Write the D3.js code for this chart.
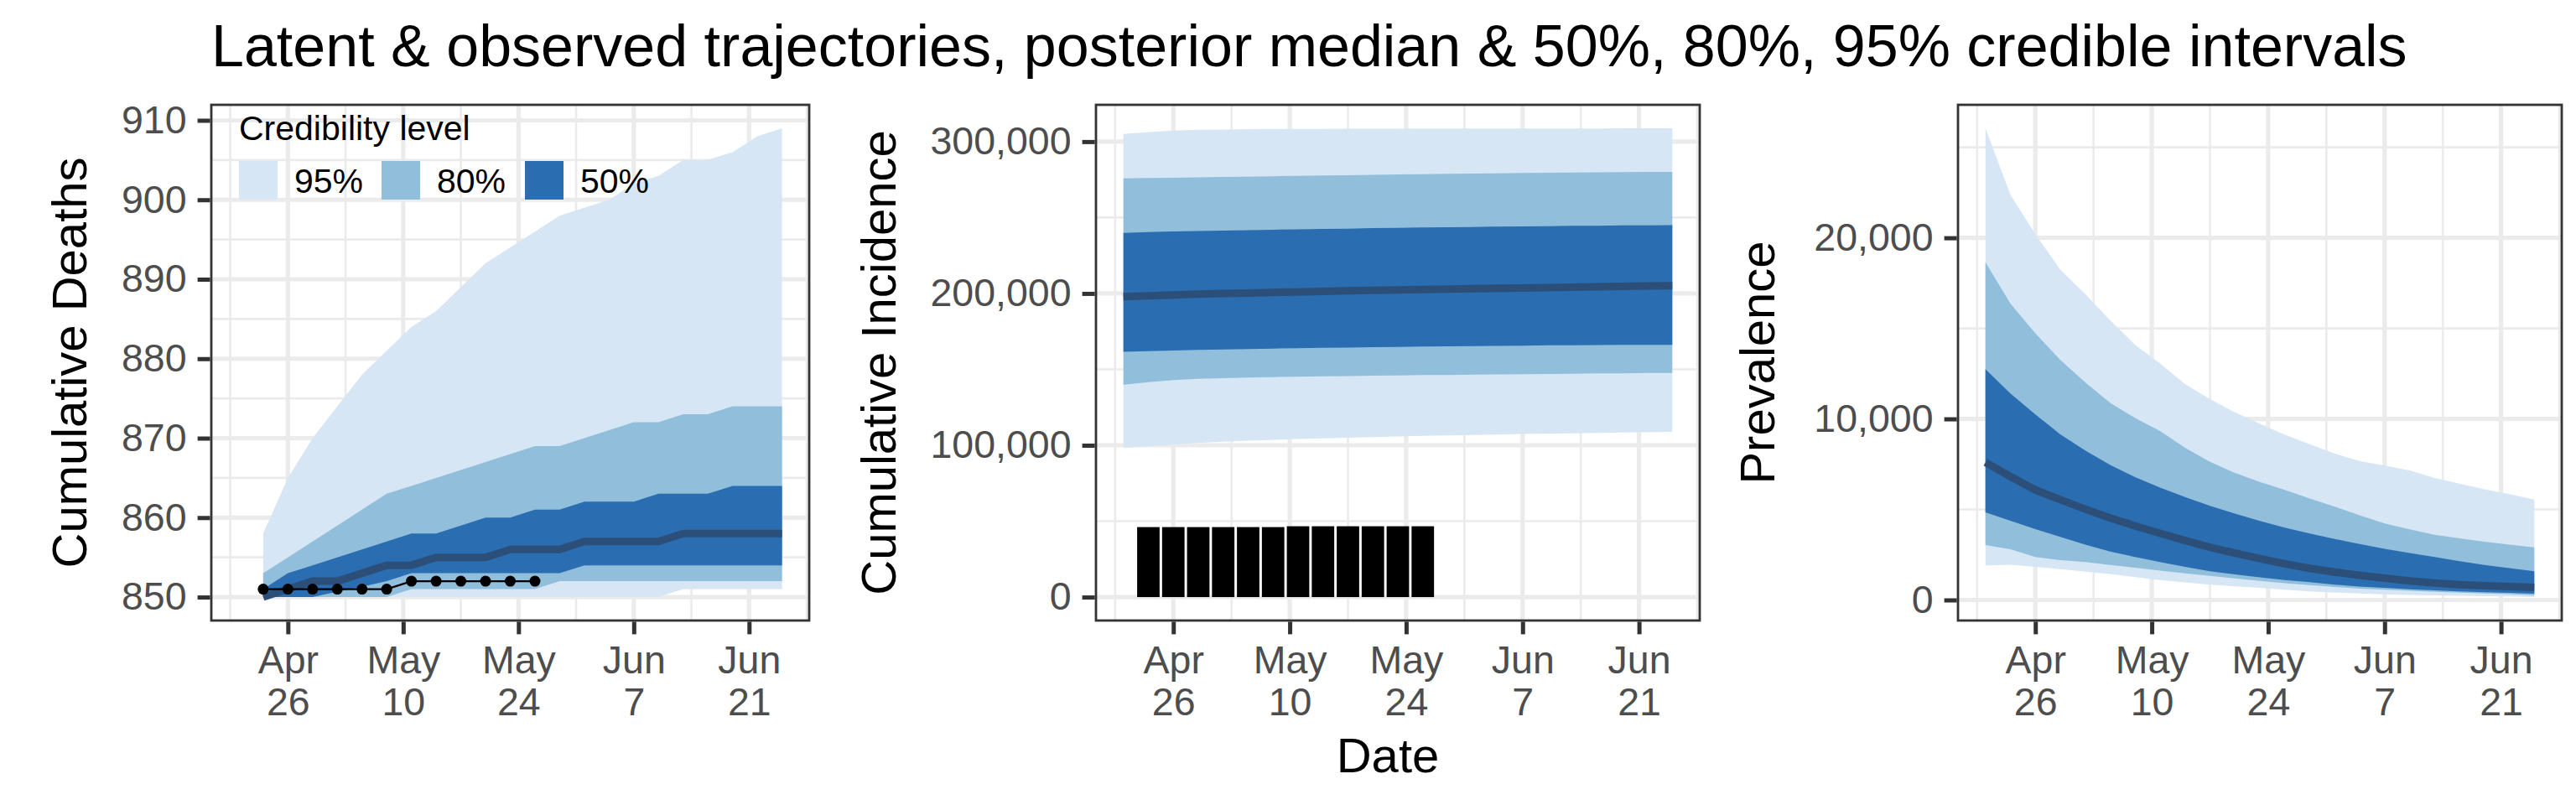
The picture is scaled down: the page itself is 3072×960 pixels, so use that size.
<!DOCTYPE html>
<html>
<head>
<meta charset="utf-8">
<script src="https://cdn.jsdelivr.net/npm/d3@7"></script>
<style>
  body { margin: 0; background: #fff; }
  svg { display: block; }
</style>
</head>
<body>
<div id="chart"></div>
<script>
// ---- data ----
const latentDates = [
  "2020-04-20", "2020-04-23", "2020-04-26", "2020-04-29", "2020-05-02", "2020-05-05",
  "2020-05-08", "2020-05-11", "2020-05-14", "2020-05-17", "2020-05-20", "2020-05-23",
  "2020-05-26", "2020-05-29", "2020-06-01", "2020-06-04", "2020-06-07", "2020-06-10",
  "2020-06-13", "2020-06-16", "2020-06-19", "2020-06-22", "2020-06-25"
];
const deathDates = latentDates.slice(1);
const obsDates = [
  "2020-04-23", "2020-04-26", "2020-04-29", "2020-05-02", "2020-05-05", "2020-05-08",
  "2020-05-11", "2020-05-14", "2020-05-17", "2020-05-20", "2020-05-23", "2020-05-26"
];

const xTickDates = ["2020-04-26", "2020-05-10", "2020-05-24", "2020-06-07", "2020-06-21"];
const levels = ["95%", "80%", "50%"];

// cumulative deaths
const deathObs = [851, 851, 851, 851, 851, 851, 852, 852, 852, 852, 852, 852];
const deathLo95 = [850, 850, 850, 850, 850, 850, 850, 850, 850, 850, 850, 850, 850, 850, 850, 850, 850, 851, 851, 851, 851, 851];
const deathLo80 = [850, 850, 850, 850, 850, 850, 851, 851, 851, 851, 851, 851, 852, 852, 852, 852, 852, 852, 852, 852, 852, 852];
const deathLo50 = [850, 850, 850, 850.7, 851.3, 852, 853, 853, 853, 853, 853, 853, 853, 854, 854, 854, 854, 854, 854, 854, 854, 854];
const deathMed = [850, 851, 852, 852, 853, 854, 854, 855, 855, 855, 856, 856, 856, 857, 857, 857, 857, 858, 858, 858, 858, 858];
const deathHi50 = [851, 853, 854, 855, 856, 857, 858, 858, 859, 860, 860, 861, 861, 862, 862, 862, 863, 863, 863, 864, 864, 864];
const deathHi80 = [853, 855, 857, 859, 861, 863, 864, 865, 866, 867, 868, 869, 869, 870, 871, 872, 872, 873, 873, 874, 874, 874];
const deathHi95 = [858, 865, 870, 874, 878, 881, 884, 886, 889, 892, 894, 896, 898, 899, 900, 902, 903, 905, 905, 906, 908, 909];
const deathTicks = [850, 860, 870, 880, 890, 900, 910];

// cumulative incidence
const incObs = [46100, 46100, 46100, 46100, 46100, 46100, 46650, 46650, 46650, 46650, 46650, 46650];
const incLo95 = [98200, 99500, 100600, 101500, 102300, 103000, 103600, 104100, 104600, 105000, 105400, 105800, 106200, 106500, 106800, 107100, 107400, 107700, 107900, 108200, 108400, 108600, 108800];
const incLo80 = [139900, 141600, 142900, 143700, 144200, 144600, 144900, 145200, 145400, 145600, 145800, 146000, 146200, 146300, 146500, 146700, 146800, 147000, 147100, 147300, 147400, 147600, 147700];
const incLo50 = [161600, 162000, 162400, 162800, 163100, 163400, 163700, 163900, 164200, 164400, 164600, 164800, 165000, 165200, 165300, 165500, 165600, 165800, 165900, 166000, 166100, 166200, 166200];
const incMed = [197900, 198500, 199000, 199500, 199900, 200300, 200700, 201000, 201400, 201700, 202000, 202300, 202600, 202900, 203100, 203400, 203600, 203900, 204100, 204400, 204600, 204900, 205100];
const incHi50 = [239900, 240400, 240800, 241100, 241400, 241700, 242000, 242200, 242500, 242700, 243000, 243200, 243400, 243600, 243800, 244000, 244200, 244300, 244500, 244600, 244800, 244900, 245000];
const incHi80 = [275800, 276000, 276200, 276400, 276700, 276900, 277200, 277400, 277700, 277900, 278100, 278400, 278600, 278800, 279000, 279100, 279300, 279500, 279600, 279800, 279900, 280000, 280100];
const incHi95 = [305100, 306300, 307200, 307800, 308000, 308200, 308300, 308400, 308400, 308500, 308500, 308500, 308600, 308600, 308600, 308600, 308700, 308700, 308700, 308700, 308800, 308800, 308800];
const incTicks = [0, 100000, 200000, 300000];

// prevalence
const prevLo95 = [1900, 1950, 1830, 1700, 1560, 1430, 1260, 1100, 970, 850, 750, 670, 570, 480, 410, 360, 310, 280, 250, 230, 210, 200, 160];
const prevLo80 = [3030, 2800, 2370, 2200, 2090, 1930, 1780, 1620, 1470, 1330, 1190, 1050, 930, 820, 720, 630, 570, 510, 450, 400, 360, 320, 260];
const prevLo50 = [4840, 4380, 3910, 3480, 3060, 2680, 2370, 2090, 1830, 1590, 1410, 1250, 1100, 980, 850, 740, 670, 590, 530, 480, 430, 390, 350];
const prevMed = [7600, 6820, 6080, 5540, 5020, 4530, 4090, 3680, 3280, 2910, 2590, 2290, 2000, 1750, 1540, 1360, 1200, 1050, 940, 850, 790, 740, 700];
const prevHi50 = [12750, 11400, 10250, 9150, 8250, 7450, 6780, 6200, 5690, 5200, 4770, 4370, 3990, 3670, 3370, 3090, 2830, 2590, 2370, 2140, 1930, 1760, 1590];
const prevHi80 = [18650, 16370, 14720, 13260, 12020, 10880, 10050, 9330, 8400, 7630, 7010, 6520, 6080, 5600, 5150, 4680, 4220, 3900, 3600, 3400, 3220, 3060, 2910];
const prevHi95 = [26050, 22380, 20200, 18240, 16890, 15440, 14090, 13060, 11920, 11090, 10360, 9740, 9120, 8600, 8080, 7670, 7420, 7150, 6740, 6420, 6110, 5850, 5540];
const prevTicks = [0, 10000, 20000];

// ---- look ----
const W = 3072, H = 960;
const FONT = '"Liberation Sans", Arial, Helvetica, sans-serif';
const bandColors = { "95%": "#d6e6f4", "80%": "#91bedb", "50%": "#2a6db0" };
const medianColor = "#2b4f78";
const gridColor = "#ebebeb";
const panelTop = 125, panelBottom = 740;

const parse = d3.utcParse("%Y-%m-%d");

// ggplot-like 5% expansion
function expand([a, b], k = 0.05) {
  const d = (b - a) * k;
  return [a - d, b + d];
}

// minor breaks halfway between majors, one extra step on each side
function minorBreaks(major, domain) {
  const out = [];
  for (let i = 0; i < major.length; i++) {
    const step = i < major.length - 1 ? major[i + 1] - major[i] : major[i] - major[i - 1];
    if (i === 0) out.push(major[0] - step / 2);
    out.push(major[i] + step / 2);
  }
  return out.filter((v) => v > domain[0] && v < domain[1]);
}

const latent = latentDates.map(parse);
const xExtent = d3.extent(latent).map(Number);
const xDomain = expand(xExtent).map((t) => new Date(t));
const xTicks = xTickDates.map(parse);
const xMinor = minorBreaks(xTicks.map(Number), xDomain.map(Number)).map((t) => new Date(t));

function bandRows(dates, lo, hi) {
  return dates.map((d, i) => ({ date: parse(d), lo: lo[i], hi: hi[i] }));
}

const panels = [
  {
    left: 252, right: 965, yTitle: "Cumulative Deaths", yTitleX: 103,
    dates: deathDates, ticks: deathTicks, fmt: d3.format("d"),
    bands: [
      ["95%", deathLo95, deathHi95],
      ["80%", deathLo80, deathHi80],
      ["50%", deathLo50, deathHi50],
    ],
    median: deathMed,
    extra: [deathObs],
    observed: "points",
    obs: deathObs,
    legend: true,
  },
  {
    left: 1307, right: 2027, yTitle: "Cumulative Incidence", yTitleX: 1068,
    dates: latentDates, ticks: incTicks, fmt: d3.format(","),
    bands: [
      ["95%", incLo95, incHi95],
      ["80%", incLo80, incHi80],
      ["50%", incLo50, incHi50],
    ],
    median: incMed,
    extra: [incObs, [0]],
    observed: "bars",
    obs: incObs,
  },
  {
    left: 2335, right: 3055, yTitle: "Prevalence", yTitleX: 2116,
    dates: latentDates, ticks: prevTicks, fmt: d3.format(","),
    bands: [
      ["95%", prevLo95, prevHi95],
      ["80%", prevLo80, prevHi80],
      ["50%", prevLo50, prevHi50],
    ],
    median: prevMed,
    extra: [],
  },
];

const svg = d3.select("#chart")
  .append("svg")
  .attr("width", W)
  .attr("height", H)
  .style("font-family", FONT);

svg.append("rect").attr("width", W).attr("height", H).attr("fill", "#fff");

panels.forEach(drawPanel);

// title
svg.append("text")
  .attr("x", 252)
  .attr("y", 79)
  .attr("font-size", 70)
  .attr("fill", "#000")
  .text("Latent & observed trajectories, posterior median & 50%, 80%, 95% credible intervals");

// shared x title, under the middle panel
svg.append("text")
  .attr("x", 1655)
  .attr("y", 921)
  .attr("text-anchor", "middle")
  .attr("font-size", 58)
  .attr("fill", "#000")
  .text("Date");

function drawPanel(p, idx) {
  const allVals = p.bands.flatMap((b) => [...b[1], ...b[2]]).concat(p.median, ...p.extra);
  const yDomain = expand(d3.extent(allVals));

  const x = d3.scaleUtc().domain(xDomain).range([p.left, p.right]);
  const y = d3.scaleLinear().domain(yDomain).range([panelBottom, panelTop]);

  const g = svg.append("g").attr("class", "panel-" + idx);
  const clipId = "clip" + idx;
  g.append("clipPath").attr("id", clipId)
    .append("rect")
    .attr("x", p.left).attr("y", panelTop)
    .attr("width", p.right - p.left).attr("height", panelBottom - panelTop);

  const inner = g.append("g").attr("clip-path", `url(#${clipId})`);

  // grid
  const yMinor = minorBreaks(p.ticks, yDomain);
  inner.selectAll(".xminor").data(xMinor).join("line")
    .attr("x1", (d) => x(d)).attr("x2", (d) => x(d))
    .attr("y1", panelTop).attr("y2", panelBottom)
    .attr("stroke", gridColor).attr("stroke-width", 2.6);
  inner.selectAll(".yminor").data(yMinor).join("line")
    .attr("y1", (d) => y(d)).attr("y2", (d) => y(d))
    .attr("x1", p.left).attr("x2", p.right)
    .attr("stroke", gridColor).attr("stroke-width", 2.6);
  inner.selectAll(".xmajor").data(xTicks).join("line")
    .attr("x1", (d) => x(d)).attr("x2", (d) => x(d))
    .attr("y1", panelTop).attr("y2", panelBottom)
    .attr("stroke", gridColor).attr("stroke-width", 5.2);
  inner.selectAll(".ymajor").data(p.ticks).join("line")
    .attr("y1", (d) => y(d)).attr("y2", (d) => y(d))
    .attr("x1", p.left).attr("x2", p.right)
    .attr("stroke", gridColor).attr("stroke-width", 5.2);

  // credible bands
  const area = d3.area()
    .x((d) => x(d.date))
    .y0((d) => y(d.lo))
    .y1((d) => y(d.hi));

  p.bands.forEach(([level, lo, hi]) => {
    inner.append("path")
      .datum(bandRows(p.dates, lo, hi))
      .attr("d", area)
      .attr("fill", bandColors[level]);
  });

  // median
  const line = d3.line().x((d) => x(d.date)).y((d) => y(d.v));
  inner.append("path")
    .datum(p.dates.map((d, i) => ({ date: parse(d), v: p.median[i] })))
    .attr("d", line)
    .attr("fill", "none")
    .attr("stroke", medianColor)
    .attr("stroke-width", 9)
    .attr("stroke-linejoin", "round");

  // observed data
  if (p.observed === "points") {
    const obs = obsDates.map((d, i) => ({ date: parse(d), v: p.obs[i] }));
    inner.append("path")
      .datum(obs)
      .attr("d", line)
      .attr("fill", "none")
      .attr("stroke", "#000")
      .attr("stroke-width", 2.2);
    inner.selectAll(".obs").data(obs).join("circle")
      .attr("cx", (d) => x(d.date))
      .attr("cy", (d) => y(d.v))
      .attr("r", 6.5)
      .attr("fill", "#000");
  } else if (p.observed === "bars") {
    const halfW = 1.35 * 864e5; // 90% of the 3-day spacing
    inner.selectAll(".bar").data(obsDates.map((d, i) => ({ date: parse(d), v: p.obs[i] })))
      .join("rect")
      .attr("x", (d) => x(new Date(+d.date - halfW)))
      .attr("width", (d) => x(new Date(+d.date + halfW)) - x(new Date(+d.date - halfW)))
      .attr("y", (d) => y(d.v))
      .attr("height", (d) => y(0) - y(d.v))
      .attr("fill", "#000");
  }

  // panel border
  g.append("rect")
    .attr("x", p.left).attr("y", panelTop)
    .attr("width", p.right - p.left).attr("height", panelBottom - panelTop)
    .attr("fill", "none")
    .attr("stroke", "#333")
    .attr("stroke-width", 2.8);

  // axes
  const yAxis = g.append("g")
    .attr("transform", `translate(${p.left - 1.4},0)`)
    .call(d3.axisLeft(y).tickValues(p.ticks).tickFormat(p.fmt).tickSize(15).tickPadding(13));
  const xAxis = g.append("g")
    .attr("transform", `translate(0,${panelBottom + 1.4})`)
    .call(d3.axisBottom(x).tickValues(xTicks).tickSize(15));

  [yAxis, xAxis].forEach((ax) => {
    ax.select(".domain").remove();
    ax.selectAll(".tick line").attr("stroke", "#333").attr("stroke-width", 5);
    ax.selectAll(".tick text")
      .attr("fill", "#4d4d4d")
      .attr("font-size", 46.5)
      .attr("font-family", FONT);
  });

  const fmtMon = d3.utcFormat("%b");
  const fmtDay = d3.utcFormat("%-d");
  xAxis.selectAll(".tick text").each(function (d) {
    const t = d3.select(this).text(null).attr("y", 62).attr("dy", null);
    t.append("tspan").attr("x", 0).text(fmtMon(d));
    t.append("tspan").attr("x", 0).attr("dy", 50).text(fmtDay(d));
  });

  // y title
  svg.append("text")
    .attr("transform", `translate(${p.yTitleX},${(panelTop + panelBottom) / 2}) rotate(-90)`)
    .attr("text-anchor", "middle")
    .attr("font-size", 58)
    .attr("fill", "#000")
    .text(p.yTitle);

  if (p.legend) drawLegend(g);
}

function drawLegend(g) {
  const lg = g.append("g").attr("class", "legend");
  lg.append("text")
    .attr("x", 285)
    .attr("y", 167)
    .attr("font-size", 41)
    .attr("fill", "#000")
    .text("Credibility level");

  const keyX = [285, 455, 626];
  const item = lg.selectAll(".key").data(levels).join("g")
    .attr("transform", (d, i) => `translate(${keyX[i]},192)`);
  item.append("rect")
    .attr("width", 46)
    .attr("height", 46)
    .attr("fill", (d) => bandColors[d]);
  item.append("text")
    .attr("x", 66)
    .attr("y", 38)
    .attr("font-size", 41)
    .attr("fill", "#000")
    .text((d) => d);
}
</script>
</body>
</html>
